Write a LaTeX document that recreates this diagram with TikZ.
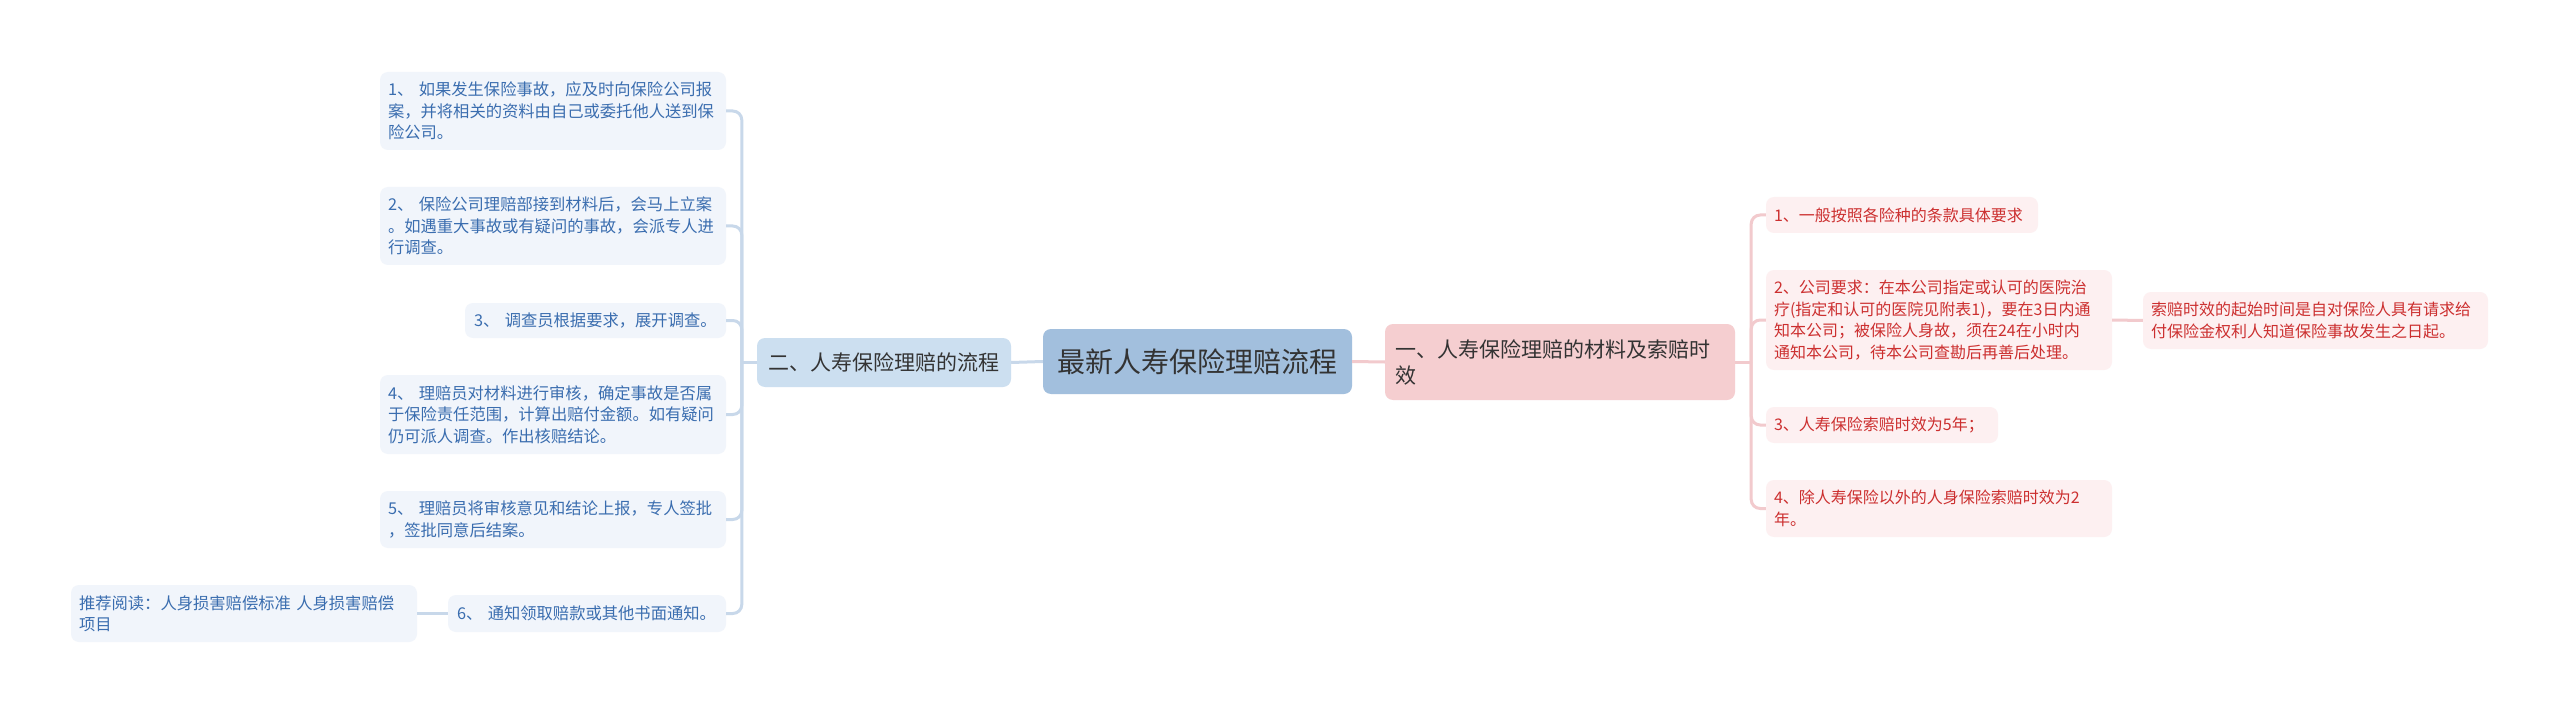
\documentclass[tikz,border=0pt]{standalone}
\usepackage{fontspec}
\setmainfont{Noto Sans CJK SC}
\definecolor{lfill}{HTML}{F1F5FB}
\definecolor{ltext}{HTML}{3A6DAF}
\definecolor{lline}{HTML}{C8D8EA}
\definecolor{twofill}{HTML}{CCDFF0}
\definecolor{cfill}{HTML}{A2BFDD}
\definecolor{onefill}{HTML}{F5CED0}
\definecolor{rfill}{HTML}{FDF0F1}
\definecolor{rtext}{HTML}{CC2F2F}
\definecolor{rline}{HTML}{F2CACD}
\definecolor{dark}{HTML}{333333}
\tikzset{
  leafL/.style={fill=lfill, rounded corners=8pt, text=ltext, font=\fontsize{16.3}{21.5}\selectfont, align=left, inner xsep=8pt, inner ysep=0pt},
  leafR/.style={fill=rfill, rounded corners=8pt, text=rtext, font=\fontsize{16}{21.7}\selectfont, align=left, inner xsep=8pt, inner ysep=0pt},
  mainbox/.style={rounded corners=8pt, text=dark, inner ysep=0pt},
  connL/.style={draw=lline, line width=3pt},
  connR/.style={draw=rline, line width=3pt},
}
\begin{document}
\begin{tikzpicture}[x=1pt,y=-1pt]
\fill[white] (0,0) rectangle (2560,714);
\useasboundingbox (0,0) rectangle (2560,714);

% main nodes
\node[mainbox, fill=cfill, minimum width=309pt, minimum height=65pt, inner xsep=0pt, font=\fontsize{28}{32}\selectfont] (central) at (1197.5,361.5) {最新人寿保险理赔流程};
\node[mainbox, fill=twofill, minimum width=254pt, minimum height=49pt, inner xsep=0pt, font=\fontsize{21}{26}\selectfont] (two) at (884,362.5) {二、人寿保险理赔的流程};
\node[mainbox, fill=onefill, text width=330pt, inner xsep=10pt, minimum height=76pt, align=left, font=\fontsize{21}{26}\selectfont] (one) at (1560,362) {一、人寿保险理赔的材料及索赔时\\效};

% left leaves
\node[leafL, text width=330pt, minimum height=78pt] (L1) at (553,111) {1、 如果发生保险事故，应及时向保险公司报\\案，并将相关的资料由自己或委托他人送到保\\险公司。};
\node[leafL, text width=330pt, minimum height=78pt] (L2) at (553,226) {2、 保险公司理赔部接到材料后，会马上立案\\。如遇重大事故或有疑问的事故，会派专人进\\行调查。};
\node[leafL, text width=243pt, inner xsep=9pt, minimum height=35pt] (L3) at (595.5,320.5) {3、 调查员根据要求，展开调查。};
\node[leafL, text width=330pt, minimum height=79pt] (L4) at (553,414.5) {4、 理赔员对材料进行审核，确定事故是否属\\于保险责任范围，计算出赔付金额。如有疑问\\仍可派人调查。作出核赔结论。};
\node[leafL, text width=330pt, minimum height=57pt] (L5) at (553,519.5) {5、 理赔员将审核意见和结论上报，专人签批\\，签批同意后结案。};
\node[leafL, text width=260pt, inner xsep=9pt, minimum height=37pt] (L6) at (587,613.5) {6、 通知领取赔款或其他书面通知。};
\node[leafL, text width=330pt, minimum height=57pt] (Rec) at (244,613.5) {推荐阅读：人身损害赔偿标准 人身损害赔偿\\项目};

% right leaves
\node[leafR, text width=256pt, minimum height=36pt] (R1) at (1902,215) {1、一般按照各险种的条款具体要求};
\node[leafR, text width=330pt, minimum height=100pt] (R2) at (1939,320) {2、公司要求：在本公司指定或认可的医院治\\疗(指定和认可的医院见附表1)，要在3日内通\\知本公司；被保险人身故，须在24在小时内\\通知本公司，待本公司查勘后再善后处理。};
\node[leafR, text width=216pt, minimum height=36pt] (R3) at (1882,425) {3、人寿保险索赔时效为5年；};
\node[leafR, text width=330pt, minimum height=57pt] (R4) at (1939,508.5) {4、除人寿保险以外的人身保险索赔时效为2\\年。};
\node[leafR, text width=329pt, minimum height=57pt] (C) at (2315.5,320.5) {索赔时效的起始时间是自对保险人具有请求给\\付保险金权利人知道保险事故发生之日起。};

% connectors
\draw[connL] (two.east) -- (central.west);
\draw[connR] (central.east) -- (one.west);
\coordinate (tl) at ([xshift=-15pt]two.west);
\draw[connL] (two.west) -- (tl);
\foreach \n in {L1,L2,L3,L4,L5,L6} \draw[connL, rounded corners=9pt] (tl) |- (\n.east);
\draw[connL] (L6.west) -- (Rec.east);
\coordinate (tr) at ([xshift=16pt]one.east);
\draw[connR] (one.east) -- (tr);
\foreach \n in {R1,R2,R3,R4} \draw[connR, rounded corners=9pt] (tr) |- (\n.west);
\draw[connR] (R2.east) -- (C.west);
\end{tikzpicture}
\end{document}
